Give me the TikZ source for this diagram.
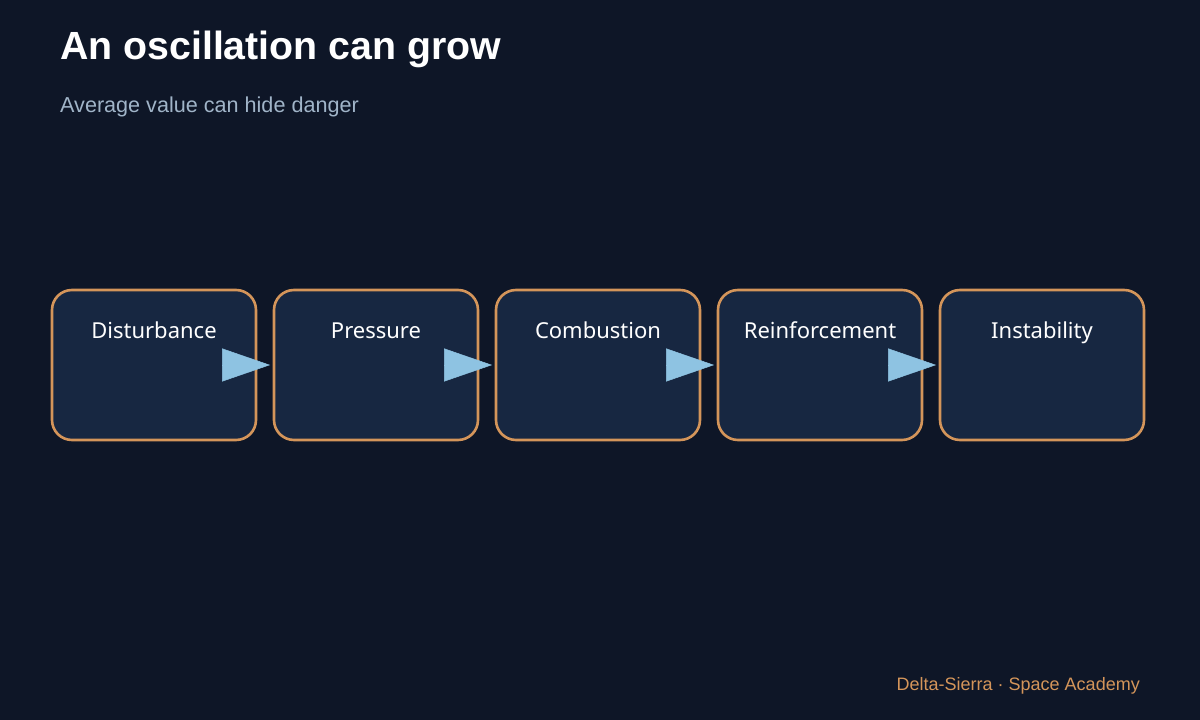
\documentclass[tikz,border=0pt]{standalone}
\usepackage{fontspec}
\setmainfont{Liberation Sans}
\newfontfamily\boxfont{Noto Sans}
\usetikzlibrary{arrows.meta}
\definecolor{bg}{HTML}{0E1627}
\definecolor{boxfill}{HTML}{172741}
\definecolor{boxedge}{HTML}{D4955A}
\definecolor{arrowc}{HTML}{8EC3E2}
\definecolor{subc}{HTML}{A0B4C8}
\tikzset{
  stagebox/.style={draw=boxedge, fill=boxfill, line width=2.6pt, rounded corners=20pt,
    minimum width=204pt, minimum height=150pt, inner sep=0pt},
  stagelabel/.style={text=white, font=\boxfont\fontsize{22}{26}\selectfont, anchor=base, inner sep=0pt},
  flow/.style={draw=arrowc, line width=0.5pt, shorten >=2.6pt,
    -{Triangle[length=48pt, width=33pt, fill=arrowc]}},
}
\begin{document}
\begin{tikzpicture}[x=1pt,y=1pt]
\useasboundingbox[fill=bg] (0,0) rectangle (1200,720);
\node[anchor=base west, text=white, font=\bfseries\fontsize{39.3}{44}\selectfont, inner sep=0pt] (title) at (60,660) {An oscillation can grow};
\node[anchor=base west, text=subc, font=\fontsize{21.6}{25}\selectfont, inner sep=0pt] (sub) at (60,607) {Average value can hide danger};
\foreach \i/\t in {0/Disturbance,1/Pressure,2/Combustion,3/Reinforcement,4/Instability}{
  \node[stagebox] (b\i) at ({154+222*\i},355) {};
  \node[stagelabel] (l\i) at ({154+222*\i},381) {\t};
}
\foreach \i/\j in {0/1,1/2,2/3,3/4}{
  \draw[flow] (b\i.east) -- (b\j.west);
}
\node[anchor=base east, text=boxedge, font=\fontsize{18}{22}\selectfont, inner sep=0pt] (foot) at (1140,29) {Delta-Sierra · Space Academy};
\end{tikzpicture}
\end{document}
